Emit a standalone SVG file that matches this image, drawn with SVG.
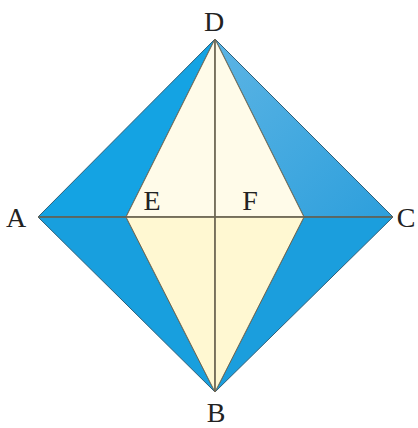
<svg xmlns="http://www.w3.org/2000/svg" width="418" height="428" viewBox="0 0 418 428">
<style>
.blue{stroke:#2f5f78;stroke-width:1;stroke-linejoin:round}
.cream{stroke:#6f6a55;stroke-width:1;stroke-linejoin:round}
.ln{stroke:#6b6452;stroke-width:1.4;fill:none}
.lbl{font-family:"Liberation Serif","Times New Roman",serif;font-size:28px;fill:#222;text-anchor:middle}
</style>
<defs>
<linearGradient id="gR" x1="0" y1="0" x2="1" y2="1">
<stop offset="0" stop-color="#5cb4e4"/>
<stop offset="1" stop-color="#2d9fdc"/>
</linearGradient>
</defs>
<rect width="418" height="428" fill="#fff"/>
<g id="shapes">
<polygon class="blue" points="215,39 38,217 126,217" fill="#14a3e3"/>
<polygon class="blue" points="38,217 215,392 126,217" fill="#189fde"/>
<polygon class="blue" points="215,39 393,217 304,217" fill="url(#gR)"/>
<polygon class="blue" points="393,217 215,392 304,217" fill="#1b9edd"/>
<polygon class="cream" points="215,39 126,217 215,217" fill="#fffbe9"/>
<polygon class="cream" points="215,39 304,217 215,217" fill="#fffbe9"/>
<polygon class="cream" points="126,217 215,392 215,217" fill="#fff8d2"/>
<polygon class="cream" points="304,217 215,392 215,217" fill="#fff8d2"/>
</g>
<g id="connectors">
<line class="ln" x1="38" y1="217" x2="393" y2="217" stroke="#3d4a50"/>
<line class="ln" x1="215" y1="39" x2="215" y2="392"/>
</g>
<g id="labels">
<g id="D"><text class="lbl" x="214" y="31">D</text></g>
<g id="A"><text class="lbl" x="16" y="227">A</text></g>
<g id="C"><text class="lbl" x="406" y="227">C</text></g>
<g id="B"><text class="lbl" x="216" y="422">B</text></g>
<g id="E"><text class="lbl" x="152" y="210">E</text></g>
<g id="F"><text class="lbl" x="250" y="210">F</text></g>
</g>
</svg>
